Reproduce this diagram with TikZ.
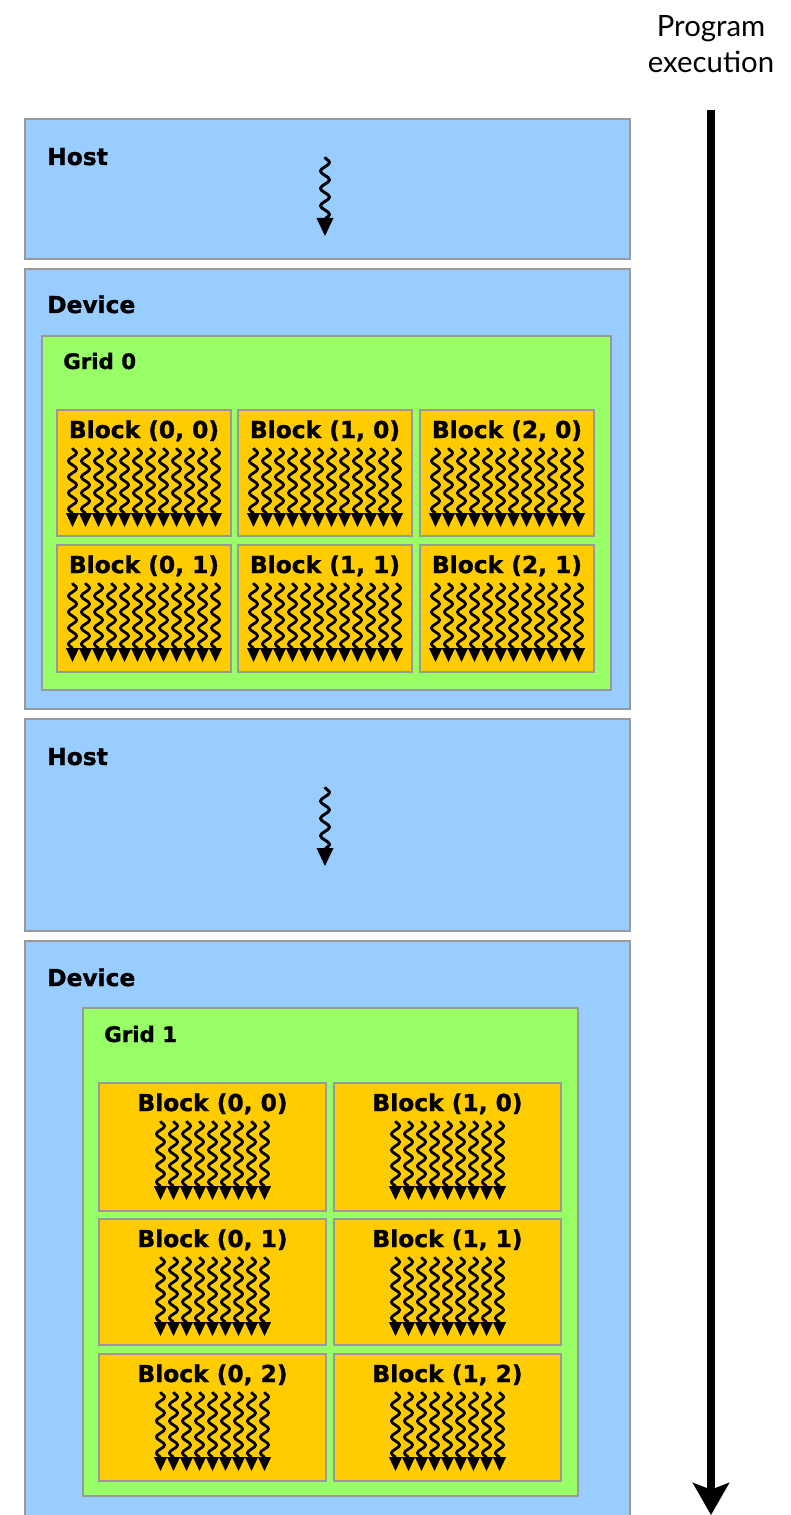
\documentclass[tikz,border=0pt]{standalone}
\usepackage{fontspec}
\setmainfont{DejaVu Sans}[BoldFeatures={FakeBold=1.2}]
\newfontfamily\captionfont{Lato}
\usetikzlibrary{fit,decorations.pathmorphing,arrows.meta}

\definecolor{hostblue}{HTML}{99CCFF}
\definecolor{gridgreen}{HTML}{99FF66}
\definecolor{blockgold}{HTML}{FFCC00}
\definecolor{edgegray}{HTML}{999999}

\tikzset{
  x=0.75pt, y=-0.75pt,
  panel/.style={draw=edgegray, line width=1.5pt, inner sep=0pt, outer sep=0pt},
  hostbox/.style={panel, fill=hostblue},
  gridbox/.style={panel, fill=gridgreen},
  blockbox/.style={panel, fill=blockgold},
  boxtitle/.style={font=\bfseries\fontsize{17.5}{20}\selectfont, inner sep=0pt},
  gridtitle/.style={font=\bfseries\fontsize{16}{18}\selectfont, inner sep=0pt},
  captiontext/.style={font=\captionfont\fontsize{22}{26}\selectfont, inner sep=0pt},
  wavy/.style={line width=2.1pt, line join=round, decorate,
    decoration={snake, amplitude=3.1pt, segment length=12pt}},
  hostwavy/.style={line width=2.2pt, line join=round, decorate,
    decoration={snake, amplitude=3.4pt, segment length=13pt}},
}

% a row of n threads centred at cx inside a block whose top edge is at y
\newcommand\threadrow[3]{%
  \foreach \k in {1,...,#3}{%
    \pgfmathsetmacro\tx{#1+13*(\k-(#3+1)/2)}%
    \draw[wavy] (\tx,#2+38) -- (\tx,#2+104);
    \fill (\tx-6.6,#2+103) -- (\tx+6.6,#2+103) -- (\tx,#2+117) -- cycle;
  }}

% block: name, x1, y1, x2, y2, label, number of threads
\newcommand\blocknode[7]{%
  \node[blockbox, fit={(#2,#3) (#4,#5)}] (#1) {};
  \node[boxtitle, anchor=base] (#1-label) at ({(#2+#4)/2},#3+28) {#6};
  \threadrow{(#2+#4)/2}{#3}{#7}}

% single host thread: x, top of wave, tip of arrow head
\newcommand\hostthread[3]{%
  \draw[hostwavy] (#1,#2) -- (#1,#3-16);
  \fill (#1-8.5,#3-18) -- (#1+8.5,#3-18) -- (#1,#3) -- cycle;}

\begin{document}
\begin{tikzpicture}
\useasboundingbox (0,0) rectangle (791,1515);
\clip (0,0) rectangle (791,1515);

% first host phase
\node[hostbox, fit={(25,119) (630,259)}] (host1) {};
\node[boxtitle, anchor=base west] (host1-label) at (47,165) {Host};
\hostthread{325}{157}{236}

% first device phase with grid 0
\node[hostbox, fit={(25,269) (630,709)}] (device1) {};
\node[boxtitle, anchor=base west] (device1-label) at (47,313) {Device};
\node[gridbox, fit={(42,336) (611,690)}] (grid0) {};
\node[gridtitle, anchor=base west] (grid0-label) at (63,369) {Grid 0};
\blocknode{g0b00}{57}{410}{231}{536}{Block (0, 0)}{12}
\blocknode{g0b10}{238}{410}{412}{536}{Block (1, 0)}{12}
\blocknode{g0b20}{420}{410}{594}{536}{Block (2, 0)}{12}
\blocknode{g0b01}{57}{545}{231}{672}{Block (0, 1)}{12}
\blocknode{g0b11}{238}{545}{412}{672}{Block (1, 1)}{12}
\blocknode{g0b21}{420}{545}{594}{672}{Block (2, 1)}{12}

% second host phase
\node[hostbox, fit={(25,719) (630,931)}] (host2) {};
\node[boxtitle, anchor=base west] (host2-label) at (47,765) {Host};
\hostthread{325}{787}{866}

% second device phase with grid 1
\node[hostbox, fit={(25,941) (630,1530)}] (device2) {};
\node[boxtitle, anchor=base west] (device2-label) at (47,986) {Device};
\node[gridbox, fit={(83,1008) (578,1496)}] (grid1) {};
\node[gridtitle, anchor=base west] (grid1-label) at (104,1042) {Grid 1};
\blocknode{g1b00}{99}{1083}{326}{1211}{Block (0, 0)}{9}
\blocknode{g1b10}{334}{1083}{561}{1211}{Block (1, 0)}{9}
\blocknode{g1b01}{99}{1219}{326}{1345}{Block (0, 1)}{9}
\blocknode{g1b11}{334}{1219}{561}{1345}{Block (1, 1)}{9}
\blocknode{g1b02}{99}{1354}{326}{1481}{Block (0, 2)}{9}
\blocknode{g1b12}{334}{1354}{561}{1481}{Block (1, 2)}{9}

% program execution time line
\node[captiontext, anchor=base] (prog-label) at (711,37) {Program};
\node[captiontext, anchor=base] (exec-label) at (711,73) {execution};
\coordinate (exec-start) at (711,110);
\coordinate (exec-end) at (711,1515);
\draw[line width=5.8pt, -{Stealth[length=24pt, width=27pt, inset=5pt]}]
  (exec-start) -- (exec-end);
\end{tikzpicture}
\end{document}
